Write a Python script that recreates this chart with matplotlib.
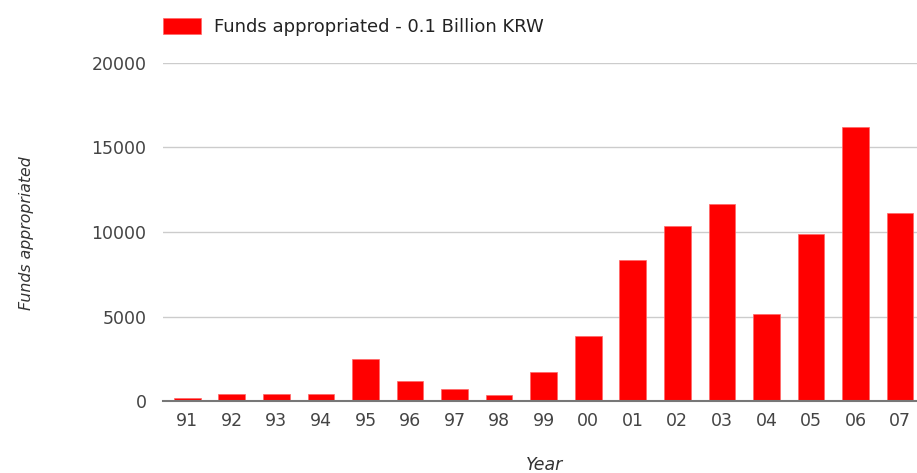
import matplotlib.pyplot as plt

years = ['91', '92', '93', '94', '95', '96', '97', '98', '99',
         '00', '01', '02', '03', '04', '05', '06', '07']
funds = [200, 440, 440, 440, 2500, 1190, 710, 360, 1700,
         3850, 8350, 10350, 11650, 5150, 9900, 16200, 11150]

plt.rcParams['font.family'] = ['DejaVu Sans']

fig = plt.figure(figsize=(9.17, 4.73), dpi=100)
ax = fig.add_axes([0.178, 0.152, 0.822, 0.715])

x = range(len(years))
ax.bar(x, funds, width=0.6, color='#ff0000', edgecolor='#ff6666', linewidth=0.5,
       label='Funds appropriated - 0.1 Billion KRW', zorder=3)

ax.set_ylim(0, 20000)
ax.set_xlim(-0.54, 16.38)
ax.set_yticks([0, 5000, 10000, 15000, 20000])
ax.set_xticks(list(x))
ax.set_xticklabels(years)
ax.tick_params(axis='both', length=0, labelsize=12.5, labelcolor='#444444')
ax.tick_params(axis='y', pad=12)
ax.tick_params(axis='x', pad=8)
ax.grid(axis='y', color='#cccccc', linewidth=1, zorder=0)
for s in ['top', 'right', 'left']:
    ax.spines[s].set_visible(False)
ax.spines['bottom'].set_color('#777777')
ax.spines['bottom'].set_linewidth(1.5)
ax.spines['bottom'].set_zorder(4)

fig.text(0.594, 0.017, 'Year', fontsize=12.5, style='italic', color='#333333',
         ha='center', va='center')
fig.text(0.029, 0.507, 'Funds appropriated', fontsize=11.3, style='italic', color='#333333',
         rotation=90, va='center', ha='center')

ax.legend(loc='upper left', bbox_to_anchor=(0.178, 0.962), bbox_transform=fig.transFigure,
          frameon=False, fontsize=13, handlelength=2.1, handleheight=0.95,
          handletextpad=0.72, borderaxespad=0, borderpad=0, labelcolor='#222222')

fig.savefig('out.png', dpi=100)
